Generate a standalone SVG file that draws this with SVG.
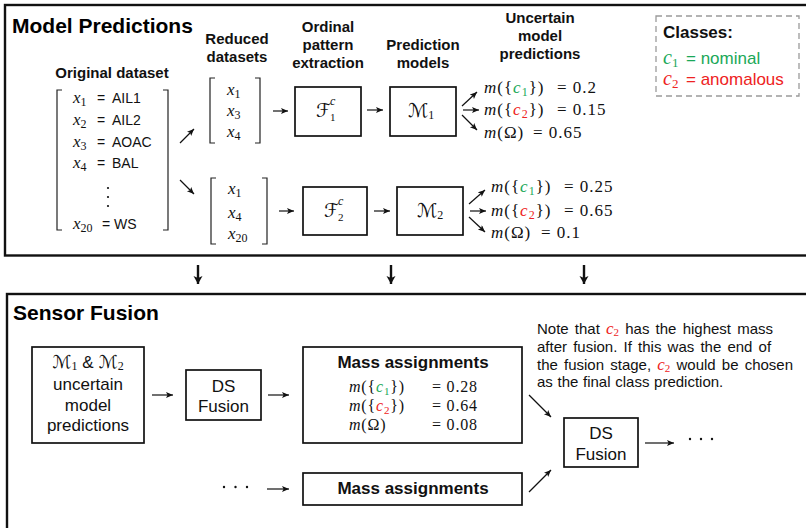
<svg xmlns="http://www.w3.org/2000/svg" width="806" height="528" viewBox="0 0 806 528">
  <defs>
    <style>
      .frame { fill: none; stroke: #111; stroke-width: 2.4; }
      .box { fill: #fff; stroke: #111; stroke-width: 1.7; }
      .brk { fill: none; stroke: #222; stroke-width: 1.2; }
      .sans { font-family: "Liberation Sans", Arial, sans-serif; fill: #111; }
      .hd { font-family: "Liberation Sans", Arial, sans-serif; font-weight: bold; font-size: 15px; fill: #111; text-anchor: middle; }
      .title { font-family: "Liberation Sans", Arial, sans-serif; font-weight: bold; font-size: 21px; fill: #000; }
      .math { font-family: "Liberation Serif", "Times New Roman", serif; fill: #111; }
      .cal { font-family: "DejaVu Serif", "DejaVu Sans", serif; fill: #111; }
      .it { font-style: italic; }
      .g { fill: #1aa858; }
      .r { fill: #ee2222; }
      .mid { text-anchor: middle; }
      .conn line { stroke: #111; stroke-width: 1.2; marker-end: url(#ah); }
      .conn line.down { stroke-width: 2.4; marker-end: url(#ahb); }
      .dot { fill: #111; }
    </style>
    <marker id="ah" markerUnits="userSpaceOnUse" markerWidth="10" markerHeight="10" refX="7" refY="3" orient="auto">
      <path d="M0,0 L7,3 L0,6 L1.6,3 Z" fill="#111"/>
    </marker>
    <marker id="ahb" markerUnits="userSpaceOnUse" markerWidth="12" markerHeight="12" refX="8" refY="4.5" orient="auto">
      <path d="M0,0 L8,4.5 L0,9 L2,4.5 Z" fill="#111"/>
    </marker>
  </defs>

  <rect width="806" height="528" fill="#fff"/>

  <!-- stage frames -->
  <g id="stage-model-predictions">
    <rect class="frame" x="5" y="5" width="812" height="250.5"/>
    <text class="title" x="12" y="33">Model Predictions</text>
  </g>
  <g id="stage-sensor-fusion">
    <rect class="frame" x="7" y="294" width="812" height="250"/>
    <text class="title" x="13" y="320">Sensor Fusion</text>
  </g>

  <!-- legend -->
  <g id="classes">
    <rect x="656" y="16" width="143" height="80" fill="none" stroke="#9a9a9a" stroke-width="1.3" stroke-dasharray="6 4"/>
    <text class="sans" x="663" y="38" font-size="17" font-weight="bold">Classes:</text>
    <text y="64"><tspan class="math it g" x="663" font-size="20">c</tspan><tspan class="math g" font-size="13" dy="3">1</tspan><tspan class="sans g" x="686" dy="-3" font-size="17">= nominal</tspan></text>
    <text y="85"><tspan class="math it r" x="663" font-size="20">c</tspan><tspan class="math r" font-size="13" dy="3">2</tspan><tspan class="sans r" x="686" dy="-3" font-size="17">= anomalous</tspan></text>
  </g>

  <!-- column headings -->
  <g id="headings">
    <text class="hd" x="112" y="78">Original dataset</text>
    <text class="hd" x="237" y="44">Reduced</text>
    <text class="hd" x="237" y="62">datasets</text>
    <text class="hd" x="328" y="32">Ordinal</text>
    <text class="hd" x="328" y="50">pattern</text>
    <text class="hd" x="328" y="68">extraction</text>
    <text class="hd" x="423" y="50">Prediction</text>
    <text class="hd" x="423" y="68">models</text>
    <text class="hd" x="540" y="23">Uncertain</text>
    <text class="hd" x="540" y="41">model</text>
    <text class="hd" x="540" y="59">predictions</text>
  </g>

  <!-- full feature set -->
  <g id="original-dataset" font-size="17">
    <path class="brk" d="M62,90 H57 V230 H62"/>
    <path class="brk" d="M163,90 H168 V230 H163"/>
    <text y="103"><tspan class="math it" x="73">x</tspan><tspan class="math" font-size="12" dy="3">1</tspan><tspan class="sans" font-size="14" x="97" dy="-3">=</tspan><tspan class="sans" font-size="14" x="112">AIL1</tspan></text>
    <text y="125"><tspan class="math it" x="73">x</tspan><tspan class="math" font-size="12" dy="3">2</tspan><tspan class="sans" font-size="14" x="97" dy="-3">=</tspan><tspan class="sans" font-size="14" x="112">AIL2</tspan></text>
    <text y="147"><tspan class="math it" x="73">x</tspan><tspan class="math" font-size="12" dy="3">3</tspan><tspan class="sans" font-size="14" x="97" dy="-3">=</tspan><tspan class="sans" font-size="14" x="112">AOAC</tspan></text>
    <text y="168"><tspan class="math it" x="73">x</tspan><tspan class="math" font-size="12" dy="3">4</tspan><tspan class="sans" font-size="14" x="97" dy="-3">=</tspan><tspan class="sans" font-size="14" x="112">BAL</tspan></text>
    <circle class="dot" cx="108" cy="188" r="1.1"/>
    <circle class="dot" cx="108" cy="197" r="1.1"/>
    <circle class="dot" cx="108" cy="206" r="1.1"/>
    <text y="229"><tspan class="math it" x="73">x</tspan><tspan class="math" font-size="12" dy="3">20</tspan><tspan class="sans" font-size="14" x="102" dy="-3">=</tspan><tspan class="sans" font-size="14" x="114">WS</tspan></text>
  </g>

  <!-- reduced feature subsets -->
  <g id="reduced-dataset-1" font-size="17">
    <path class="brk" d="M215,78 H210 V143 H215"/>
    <path class="brk" d="M255,78 H260 V143 H255"/>
    <text y="95"><tspan class="math it" x="227">x</tspan><tspan class="math" font-size="12" dy="3">1</tspan></text>
    <text y="116"><tspan class="math it" x="227">x</tspan><tspan class="math" font-size="12" dy="3">3</tspan></text>
    <text y="137"><tspan class="math it" x="227">x</tspan><tspan class="math" font-size="12" dy="3">4</tspan></text>
  </g>
  <g id="reduced-dataset-2" font-size="17">
    <path class="brk" d="M216,178 H211 V244 H216"/>
    <path class="brk" d="M262,178 H267 V244 H262"/>
    <text y="194"><tspan class="math it" x="228">x</tspan><tspan class="math" font-size="12" dy="3">1</tspan></text>
    <text y="218"><tspan class="math it" x="228">x</tspan><tspan class="math" font-size="12" dy="3">4</tspan></text>
    <text y="239"><tspan class="math it" x="228">x</tspan><tspan class="math" font-size="12" dy="3">20</tspan></text>
  </g>

  <!-- ordinal pattern extraction -->
  <g id="extract-1">
    <rect class="box" x="295" y="87" width="66" height="49"/>
    <text class="cal" x="316" y="117" font-size="19">ℱ</text>
    <text class="math it" x="330" y="105" font-size="12">c</text>
    <text class="math" x="330" y="121" font-size="11">1</text>
  </g>
  <g id="extract-2">
    <rect class="box" x="303" y="187" width="64" height="48"/>
    <text class="cal" x="324" y="217" font-size="19">ℱ</text>
    <text class="math it" x="338" y="205" font-size="12">c</text>
    <text class="math" x="338" y="221" font-size="11">2</text>
  </g>

  <!-- prediction models -->
  <g id="model-1">
    <rect class="box" x="390" y="87" width="66" height="49"/>
    <text x="408" y="117"><tspan class="cal" font-size="19">ℳ</tspan><tspan class="math" font-size="12" dy="2">1</tspan></text>
  </g>
  <g id="model-2">
    <rect class="box" x="397" y="187" width="66" height="48"/>
    <text x="417" y="217"><tspan class="cal" font-size="19">ℳ</tspan><tspan class="math" font-size="12" dy="2">2</tspan></text>
  </g>

  <!-- mass functions produced by each model -->
  <g id="predictions-1" class="math" font-size="17" letter-spacing="1">
    <text y="93"><tspan class="it" x="484">m</tspan>({<tspan class="it g">c</tspan><tspan class="g" font-size="12" dy="3">1</tspan><tspan dy="-3">})</tspan><tspan x="557">= 0.2</tspan></text>
    <text y="115"><tspan class="it" x="484">m</tspan>({<tspan class="it r">c</tspan><tspan class="r" font-size="12" dy="3">2</tspan><tspan dy="-3">})</tspan><tspan x="557">= 0.15</tspan></text>
    <text y="138"><tspan class="it" x="484">m</tspan>(Ω)<tspan x="533">= 0.65</tspan></text>
  </g>
  <g id="predictions-2" class="math" font-size="17" letter-spacing="1">
    <text y="192"><tspan class="it" x="491">m</tspan>({<tspan class="it g">c</tspan><tspan class="g" font-size="12" dy="3">1</tspan><tspan dy="-3">})</tspan><tspan x="564">= 0.25</tspan></text>
    <text y="216"><tspan class="it" x="491">m</tspan>({<tspan class="it r">c</tspan><tspan class="r" font-size="12" dy="3">2</tspan><tspan dy="-3">})</tspan><tspan x="564">= 0.65</tspan></text>
    <text y="238"><tspan class="it" x="491">m</tspan>(Ω)<tspan x="541">= 0.1</tspan></text>
  </g>

  <!-- sensor fusion stage -->
  <g id="fusion-input">
    <rect class="box" x="32" y="347" width="112" height="96"/>
    <text x="88" y="368" class="mid"><tspan class="cal" font-size="18">ℳ</tspan><tspan class="math" font-size="12" dy="2">1</tspan><tspan class="sans" font-size="17" dy="-2"> &amp; </tspan><tspan class="cal" font-size="18">ℳ</tspan><tspan class="math" font-size="12" dy="2">2</tspan></text>
    <text class="sans mid" x="88" y="390" font-size="17">uncertain</text>
    <text class="sans mid" x="88" y="411" font-size="17">model</text>
    <text class="sans mid" x="88" y="431" font-size="17">predictions</text>
  </g>
  <g id="ds-fusion-1">
    <rect class="box" x="186" y="370" width="75" height="50"/>
    <text class="sans mid" x="223.5" y="392" font-size="17">DS</text>
    <text class="sans mid" x="223.5" y="412" font-size="17">Fusion</text>
  </g>
  <g id="mass-assignments-1">
    <rect class="box" x="303" y="347" width="219" height="96"/>
    <text class="sans mid" x="413" y="368" font-size="17" font-weight="bold">Mass assignments</text>
    <g class="math" font-size="16" letter-spacing="0.8">
      <text y="392"><tspan class="it" x="349">m</tspan>({<tspan class="it g">c</tspan><tspan class="g" font-size="11" dy="3">1</tspan><tspan dy="-3">})</tspan><tspan x="432">= 0.28</tspan></text>
      <text y="411"><tspan class="it" x="349">m</tspan>({<tspan class="it r">c</tspan><tspan class="r" font-size="11" dy="3">2</tspan><tspan dy="-3">})</tspan><tspan x="432">= 0.64</tspan></text>
      <text y="430"><tspan class="it" x="349">m</tspan>(Ω)<tspan x="432">= 0.08</tspan></text>
    </g>
  </g>
  <g id="other-inputs">
    <circle class="dot" cx="224" cy="487" r="1.2"/>
    <circle class="dot" cx="235.5" cy="487" r="1.2"/>
    <circle class="dot" cx="247" cy="487" r="1.2"/>
  </g>
  <g id="mass-assignments-2">
    <rect class="box" x="303" y="473" width="219" height="32"/>
    <text class="sans mid" x="413" y="494" font-size="17" font-weight="bold">Mass assignments</text>
  </g>
  <g id="ds-fusion-2">
    <rect class="box" x="564" y="418" width="74" height="49"/>
    <text class="sans mid" x="601" y="439" font-size="17">DS</text>
    <text class="sans mid" x="601" y="460" font-size="17">Fusion</text>
  </g>
  <g id="fusion-output">
    <circle class="dot" cx="690" cy="439" r="1.2"/>
    <circle class="dot" cx="701" cy="439" r="1.2"/>
    <circle class="dot" cx="712" cy="439" r="1.2"/>
  </g>
  <g id="note" class="sans" font-size="15" word-spacing="2">
    <text x="537" y="334">Note that <tspan class="math it r" font-size="17">c</tspan><tspan class="math r" font-size="11" dy="2">2</tspan><tspan dy="-2"> has the highest mass</tspan></text>
    <text x="537" y="352">after fusion.  If this was the end of</text>
    <text x="537" y="370">the fusion stage, <tspan class="math it r" font-size="17">c</tspan><tspan class="math r" font-size="11" dy="2">2</tspan><tspan dy="-2"> would be chosen</tspan></text>
    <text x="537" y="387" word-spacing="0.5">as the final class prediction.</text>
  </g>

  <!-- connectors -->
  <g id="connectors" class="conn">
    <line x1="180" y1="143" x2="194" y2="129"/>
    <line x1="180" y1="180" x2="194" y2="194"/>
    <line x1="273" y1="111" x2="288" y2="111"/>
    <line x1="279" y1="211" x2="294" y2="211"/>
    <line x1="367" y1="110" x2="383" y2="110"/>
    <line x1="374" y1="211" x2="390" y2="211"/>
    <line x1="462" y1="106" x2="477" y2="92"/>
    <line x1="463" y1="110" x2="479" y2="110"/>
    <line x1="462" y1="115" x2="477" y2="130"/>
    <line x1="469" y1="204" x2="485" y2="190"/>
    <line x1="470" y1="211" x2="486" y2="211"/>
    <line x1="469" y1="217" x2="485" y2="232"/>
    <line class="down" x1="198" y1="265" x2="198" y2="284"/>
    <line class="down" x1="391" y1="265" x2="391" y2="284"/>
    <line class="down" x1="584" y1="265" x2="584" y2="284"/>
    <line x1="152" y1="395" x2="173" y2="395"/>
    <line x1="268" y1="395" x2="289" y2="395"/>
    <line x1="267" y1="489" x2="289" y2="489"/>
    <line x1="529" y1="395" x2="551" y2="417"/>
    <line x1="529" y1="492" x2="551" y2="470"/>
    <line x1="645" y1="443" x2="674" y2="443"/>
  </g>
</svg>
